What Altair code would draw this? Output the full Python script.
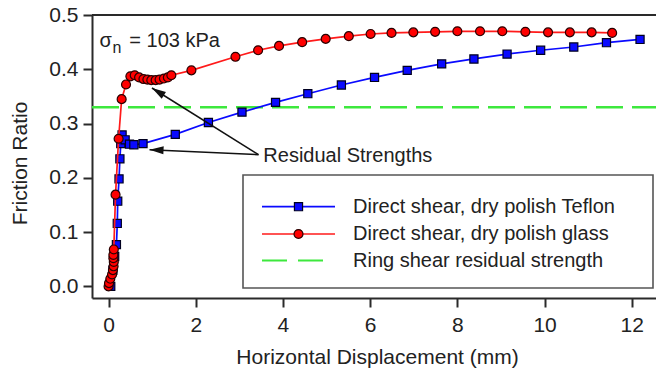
import math
import altair as alt
import pandas as pd

# ---------------- data ----------------
teflon_x = [0.05, 0.10, 0.14, 0.18, 0.20, 0.21, 0.24, 0.26, 0.28, 0.31, 0.38, 0.48, 0.58, 0.79,
            1.53, 2.29, 3.06, 3.83, 4.57, 5.34, 6.10, 6.85, 7.64, 8.38, 9.14, 9.91, 10.67, 11.42, 12.19]
teflon_y = [0.000, 0.030, 0.055, 0.077, 0.116, 0.157, 0.198, 0.235, 0.263, 0.279, 0.270, 0.262, 0.261, 0.263,
            0.280, 0.302, 0.321, 0.339, 0.355, 0.371, 0.385, 0.398, 0.410, 0.419, 0.428, 0.435, 0.441, 0.449, 0.455]

glass_x = [0.00, 0.01, 0.04, 0.08, 0.10, 0.115, 0.12, 0.11, 0.11, 0.12, 0.16, 0.23, 0.30, 0.40, 0.50,
           0.60, 0.70, 0.80, 0.89, 0.98, 1.08, 1.17, 1.27, 1.36, 1.44, 1.90, 2.91, 3.43, 3.91, 4.44,
           4.98, 5.51, 6.01, 6.49, 6.99, 7.49, 8.00, 8.52, 9.03, 9.56, 10.08, 10.58, 11.08, 11.55]
glass_y = [0.000, 0.006, 0.014, 0.022, 0.030, 0.037, 0.045, 0.052, 0.058, 0.068, 0.169, 0.272, 0.345, 0.372, 0.387,
           0.389, 0.385, 0.382, 0.381, 0.380, 0.380, 0.381, 0.383, 0.385, 0.389, 0.398, 0.423, 0.435, 0.443, 0.450,
           0.456, 0.461, 0.465, 0.467, 0.468, 0.469, 0.470, 0.470, 0.470, 0.469, 0.468, 0.468, 0.468, 0.467]

ring_value = 0.33

x_ticks = [0, 2, 4, 6, 8, 10, 12]
y_ticks = [0.0, 0.1, 0.2, 0.3, 0.4, 0.5]

legend_labels = ["Direct shear, dry polish Teflon",
                 "Direct shear, dry polish glass",
                 "Ring shear residual strength"]

# annotation anchors in data units
arrow_start = (3.44, 0.2426)
arrow_tips_x = [0.995, 0.94]
arrow_tips_y = [0.3655, 0.2518]
residual_label = "Residual Strengths"
residual_pos = (3.55, 0.2297)
sigma_pos = (-0.21, 0.4416)
sub_pos = (0.09, 0.430)
sigma_rest_pos = (0.475, 0.4416)

# ---------------- layout / style ----------------
X_DOMAIN = [-0.38, 12.556]
Y_DOMAIN = [-0.0214, 0.5]
W, H = 564, 283
FONT = "Liberation Sans"
BLUE = "#0a0aff"
RED = "#ff1a1a"
GREEN = "#3de83d"
AX = "#2a2a2a"

xs = alt.Scale(domain=X_DOMAIN, nice=False, zero=False)
ys = alt.Scale(domain=Y_DOMAIN, nice=False, zero=False)

xaxis = alt.Axis(values=x_ticks, title="Horizontal Displacement (mm)", grid=False, format="d",
                 domainColor=AX, domainWidth=2, tickColor=AX, tickWidth=2, tickSize=9,
                 labelFont=FONT, labelFontSize=21, labelColor="#222", labelPadding=7,
                 titleFont=FONT, titleFontSize=21, titleFontWeight="normal", titleColor="#222",
                 titleX=285, titleY=65, titleBaseline="alphabetic", titleAnchor="middle",
                 labelFlush=False)
yaxis = alt.Axis(values=y_ticks, title="Friction Ratio", grid=False, format=".1f",
                 domainColor=AX, domainWidth=2, tickColor=AX, tickWidth=2, tickSize=9,
                 labelFont=FONT, labelFontSize=21, labelColor="#222", labelPadding=5,
                 titleFont=FONT, titleFontSize=21, titleFontWeight="normal", titleColor="#222",
                 titleX=-66, titleY=148, titleBaseline="alphabetic", titleAnchor="middle",
                 labelFlush=False)


def X(field):
    return alt.X(field, type="quantitative", scale=xs, axis=xaxis)


def Y(field):
    return alt.Y(field, type="quantitative", scale=ys, axis=yaxis)


teflon = pd.DataFrame({"x": teflon_x, "y": teflon_y, "i": range(len(teflon_x))})
glass = pd.DataFrame({"x": glass_x, "y": glass_y, "i": range(len(glass_x))})

blue_line = alt.Chart(teflon).mark_line(color=BLUE, strokeWidth=1.7).encode(
    x=X("x"), y=Y("y"), order="i:Q")
blue_pts = alt.Chart(teflon).mark_point(shape="square", filled=True, fill=BLUE, stroke="#000020",
                                        strokeWidth=1.2, size=66, opacity=1).encode(x=X("x"), y=Y("y"))
red_line = alt.Chart(glass).mark_line(color=RED, strokeWidth=1.7).encode(
    x=X("x"), y=Y("y"), order="i:Q")
red_pts = alt.Chart(glass).mark_point(shape="circle", filled=True, fill="#ff0000", stroke="#2a0000",
                                      strokeWidth=1.2, size=80, opacity=1).encode(x=X("x"), y=Y("y"))

ring = alt.Chart(pd.DataFrame({"y": [ring_value]})).mark_rule(
    color=GREEN, strokeWidth=2.4, strokeDash=[27, 9]).encode(
    y=Y("y"), x=alt.value(0), x2=alt.value(W))

top_frame = alt.Chart(pd.DataFrame({"a": [0]})).mark_rule(color=AX, strokeWidth=2).encode(
    x=alt.value(0), x2=alt.value(W), y=alt.value(0))

# arrows
px_x = W / (X_DOMAIN[1] - X_DOMAIN[0])
px_y = H / (Y_DOMAIN[1] - Y_DOMAIN[0])
angles = []
for tx, ty in zip(arrow_tips_x, arrow_tips_y):
    dx = (tx - arrow_start[0]) * px_x
    dy = -(ty - arrow_start[1]) * px_y
    angles.append(math.degrees(math.atan2(dx, -dy)) % 360)
arrows = pd.DataFrame({"x": [arrow_start[0]] * len(arrow_tips_x), "y": [arrow_start[1]] * len(arrow_tips_x),
                       "x2": arrow_tips_x, "y2": arrow_tips_y, "angle": angles})
shafts = alt.Chart(arrows).mark_rule(color="#111", strokeWidth=1.5).encode(
    x=X("x"), y=Y("y"), x2="x2:Q", y2="y2:Q")
heads = alt.Chart(arrows).mark_point(shape="M0,0 L-0.5,1.75 L0.5,1.75 Z", filled=True, fill="#111",
                                     strokeWidth=0, size=256, opacity=1).encode(
    x=X("x2"), y=Y("y2"), angle=alt.Angle("angle:Q", scale=None))

res_txt = alt.Chart(pd.DataFrame({"x": [residual_pos[0]], "y": [residual_pos[1]], "t": [residual_label]})).mark_text(
    font=FONT, fontSize=20, align="left", baseline="alphabetic", color="#222").encode(
    x=X("x"), y=Y("y"), text="t:N")

sig = pd.DataFrame({"x": [sigma_pos[0], sigma_rest_pos[0]], "y": [sigma_pos[1], sigma_rest_pos[1]],
                    "t": ["σ", "= 103 kPa"]})
sig_txt = alt.Chart(sig).mark_text(font=FONT, fontSize=20, align="left", baseline="alphabetic",
                                   color="#222").encode(x=X("x"), y=Y("y"), text="t:N")
sub_txt = alt.Chart(pd.DataFrame({"x": [sub_pos[0]], "y": [sub_pos[1]], "t": ["n"]})).mark_text(
    font=FONT, fontSize=16, align="left", baseline="alphabetic", color="#222").encode(
    x=X("x"), y=Y("y"), text="t:N")

# legend (drawn by hand, pixel layout inside the plot area)
leg_box = alt.Chart(pd.DataFrame({"a": [0]})).mark_rect(
    fill="white", stroke="#555", strokeWidth=1.6).encode(
    x=alt.value(151), x2=alt.value(561), y=alt.value(160), y2=alt.value(273))
row_y = [191.7, 219.0, 245.5]
leg_layers = [leg_box]
for k, lab in enumerate(legend_labels):
    d = pd.DataFrame({"t": [lab]})
    if k < 2:
        col = BLUE if k == 0 else RED
        leg_layers.append(alt.Chart(d).mark_rule(color=col, strokeWidth=1.7).encode(
            x=alt.value(170), x2=alt.value(243), y=alt.value(row_y[k])))
        if k == 0:
            leg_layers.append(alt.Chart(d).mark_point(shape="square", filled=True, fill=BLUE, stroke="#000020",
                                                      strokeWidth=1.2, size=66, opacity=1).encode(
                x=alt.value(206.5), y=alt.value(row_y[k])))
        else:
            leg_layers.append(alt.Chart(d).mark_point(shape="circle", filled=True, fill="#ff0000", stroke="#2a0000",
                                                      strokeWidth=1.2, size=80, opacity=1).encode(
                x=alt.value(206.5), y=alt.value(row_y[k])))
    else:
        leg_layers.append(alt.Chart(d).mark_rule(color=GREEN, strokeWidth=2, strokeDash=[25, 11]).encode(
            x=alt.value(170), x2=alt.value(232), y=alt.value(row_y[k])))
    leg_layers.append(alt.Chart(d).mark_text(font=FONT, fontSize=20, align="left", baseline="middle",
                                             color="#222").encode(
        x=alt.value(261), y=alt.value(row_y[k]), text="t:N"))

chart = alt.layer(
    ring, blue_line, blue_pts, red_line, red_pts, shafts, heads, res_txt, sig_txt, sub_txt, top_frame,
    *leg_layers
).properties(
    width=W, height=H,
    autosize=alt.AutoSizeParams(type="none"),
    padding={"left": 92, "top": 15, "right": 0, "bottom": 73},
    background="white",
).configure_view(stroke=None)

chart.save("out.html", embed_options={"renderer": "svg", "actions": False})
